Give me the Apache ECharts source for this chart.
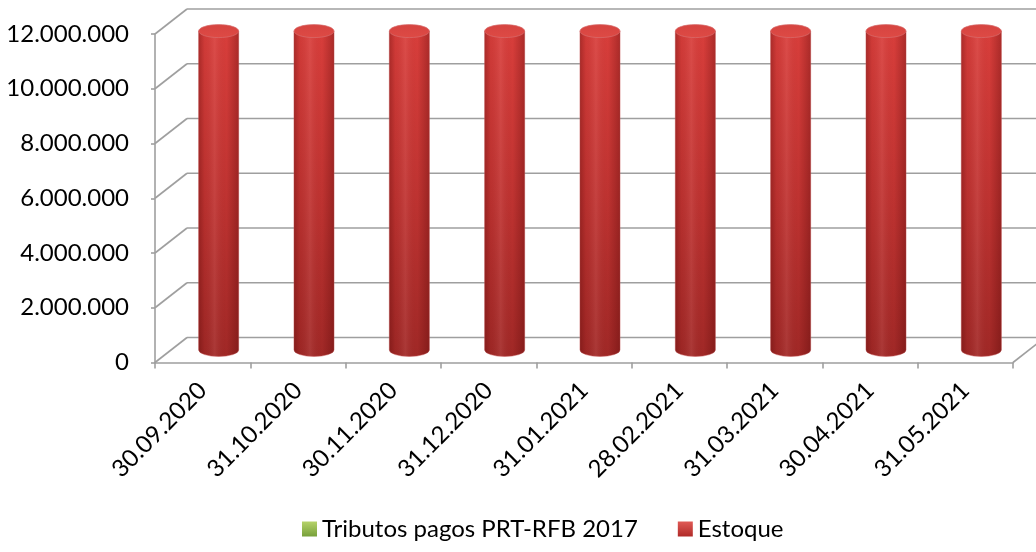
<!DOCTYPE html>
<html>
<head>
<meta charset="utf-8">
<script src="https://cdn.jsdelivr.net/npm/echarts@6/dist/echarts.min.js"></script>
<style>
  html, body { margin: 0; padding: 0; background: #fff; }
  #chart { width: 1036px; height: 552px; }
</style>
</head>
<body>
<div id="chart"></div>
<script>
// dados
var categorias = ['30.09.2020', '31.10.2020', '30.11.2020', '31.12.2020', '31.01.2021',
  '28.02.2021', '31.03.2021', '30.04.2021', '31.05.2021'];
var tributos = [null, null, null, null, null, null, null, null, null];
var estoque = [11650000, 11650000, 11650000, 11650000, 11650000, 11650000, 11650000, 11650000, 11650000];
var yTicks = [0, 2000000, 4000000, 6000000, 8000000, 10000000, 12000000];

// profundidade do "3D"
var DX = 32, DY = -25;
var GRID_COLOR = '#9f9f9f';
var FONT = 'Lato';

function fmt(v) {
  return String(v).replace(/\B(?=(\d{3})+(?!\d))/g, '.');
}

var chart = echarts.init(document.getElementById('chart'));

// paredes / linhas de grade em perspectiva
function renderWalls(params, api) {
  var cs = params.coordSys;
  var x0 = cs.x, x1 = cs.x + cs.width;
  var y = api.coord([0, api.value(1)])[1];
  var st = { stroke: GRID_COLOR, lineWidth: 1.6 };
  var children = [
    { type: 'line', shape: { x1: x0, y1: y, x2: x0 + DX, y2: y + DY }, style: st },
    { type: 'line', shape: { x1: x0 + DX, y1: y + DY, x2: x1 + DX, y2: y + DY }, style: st }
  ];
  if (api.value(1) === 0) {
    children.push({ type: 'line', shape: { x1: x1, y1: y, x2: x1 + DX, y2: y + DY }, style: st });
  }
  return { type: 'group', children: children };
}

// cilindros
function renderCyl(params, api) {
  var v = api.value(1);
  if (v == null || isNaN(v)) return;
  var top = api.coord([api.value(0), v]);
  var bot = api.coord([api.value(0), 0]);
  var bw = api.size([1, 0])[0];
  var rx = bw * 0.21, ry = 6.5;
  var cx = top[0] + DX / 2;
  var ty = top[1] + DY / 2;
  var by = bot[1] + DY / 2;
  var body = 'M ' + (cx - rx) + ' ' + ty + ' L ' + (cx - rx) + ' ' + by +
    ' A ' + rx + ' ' + ry + ' 0 0 0 ' + (cx + rx) + ' ' + by +
    ' L ' + (cx + rx) + ' ' + ty + ' Z';
  return {
    type: 'group',
    children: [
      {
        type: 'path', shape: { pathData: body },
        style: {
          fill: new echarts.graphic.LinearGradient(0, 0, 0, 1, [
            { offset: 0, color: '#d83e3b' },
            { offset: 0.5, color: '#bf3331' },
            { offset: 1, color: '#a02826' }
          ]),
          stroke: 'rgba(205,100,100,0.5)', lineWidth: 1
        }
      },
      {
        type: 'path', shape: { pathData: body },
        style: {
          fill: new echarts.graphic.LinearGradient(0, 0, 1, 0, [
            { offset: 0, color: 'rgba(70,0,0,0.30)' },
            { offset: 0.15, color: 'rgba(70,0,0,0.05)' },
            { offset: 0.4, color: 'rgba(255,200,200,0.10)' },
            { offset: 0.7, color: 'rgba(70,0,0,0.0)' },
            { offset: 1, color: 'rgba(70,0,0,0.30)' }
          ])
        }
      },
      {
        type: 'ellipse', shape: { cx: cx, cy: ty, rx: rx, ry: ry },
        style: {
          fill: new echarts.graphic.LinearGradient(0, 0, 0, 1, [
            { offset: 0, color: '#d54440' },
            { offset: 1, color: '#de4a45' }
          ]),
          stroke: 'rgba(215,110,110,0.7)', lineWidth: 1
        }
      }
    ]
  };
}

var option = {
  backgroundColor: '#ffffff',
  animation: false,
  textStyle: { fontFamily: FONT },
  grid: { left: 155, right: 23, top: 34, bottom: 189.5 },
  legend: {
    left: 297, top: 512,
    itemWidth: 15, itemHeight: 15, itemGap: 40, itemTextGap: 6,
    textStyle: { fontSize: 24, color: '#000', fontFamily: FONT },
    data: [
      { name: 'Tributos pagos PRT-RFB 2017', icon: 'rect',
        itemStyle: { color: new echarts.graphic.LinearGradient(0, 0, 0, 1, [
          { offset: 0, color: '#b6d36a' }, { offset: 1, color: '#77a03a' }]) } },
      { name: 'Estoque', icon: 'rect',
        itemStyle: { color: new echarts.graphic.LinearGradient(0, 0, 0, 1, [
          { offset: 0, color: '#e05a55' }, { offset: 1, color: '#b02a28' }]) } }
    ]
  },
  xAxis: {
    type: 'category',
    data: categorias,
    axisLine: { lineStyle: { color: GRID_COLOR, width: 1.6 } },
    axisTick: { show: true, length: 6, lineStyle: { color: GRID_COLOR, width: 1.6 } },
    axisLabel: { rotate: 45, fontSize: 24, color: '#000', margin: 24, fontFamily: FONT },
    splitLine: { show: false }
  },
  yAxis: {
    type: 'value',
    min: 0, max: 12000000, interval: 2000000,
    axisLine: { show: true, lineStyle: { color: GRID_COLOR, width: 1.6 } },
    axisTick: { show: true, length: 4, lineStyle: { color: GRID_COLOR, width: 1.6 } },
    axisLabel: { fontSize: 24, color: '#000', margin: 26, fontFamily: FONT, formatter: fmt },
    splitLine: { show: false }
  },
  series: [
    {
      type: 'custom', name: 'grade', z: 1, silent: true,
      renderItem: renderWalls,
      data: yTicks.map(function (v) { return [0, v]; })
    },
    {
      type: 'bar', name: 'Tributos pagos PRT-RFB 2017',
      itemStyle: { color: '#8db348' },
      data: tributos
    },
    {
      type: 'custom', name: 'Estoque', z: 3,
      itemStyle: { color: '#c0302e' },
      renderItem: renderCyl,
      data: estoque.map(function (v, i) { return [i, v]; })
    }
  ]
};

chart.setOption(option);
</script>
</body>
</html>
